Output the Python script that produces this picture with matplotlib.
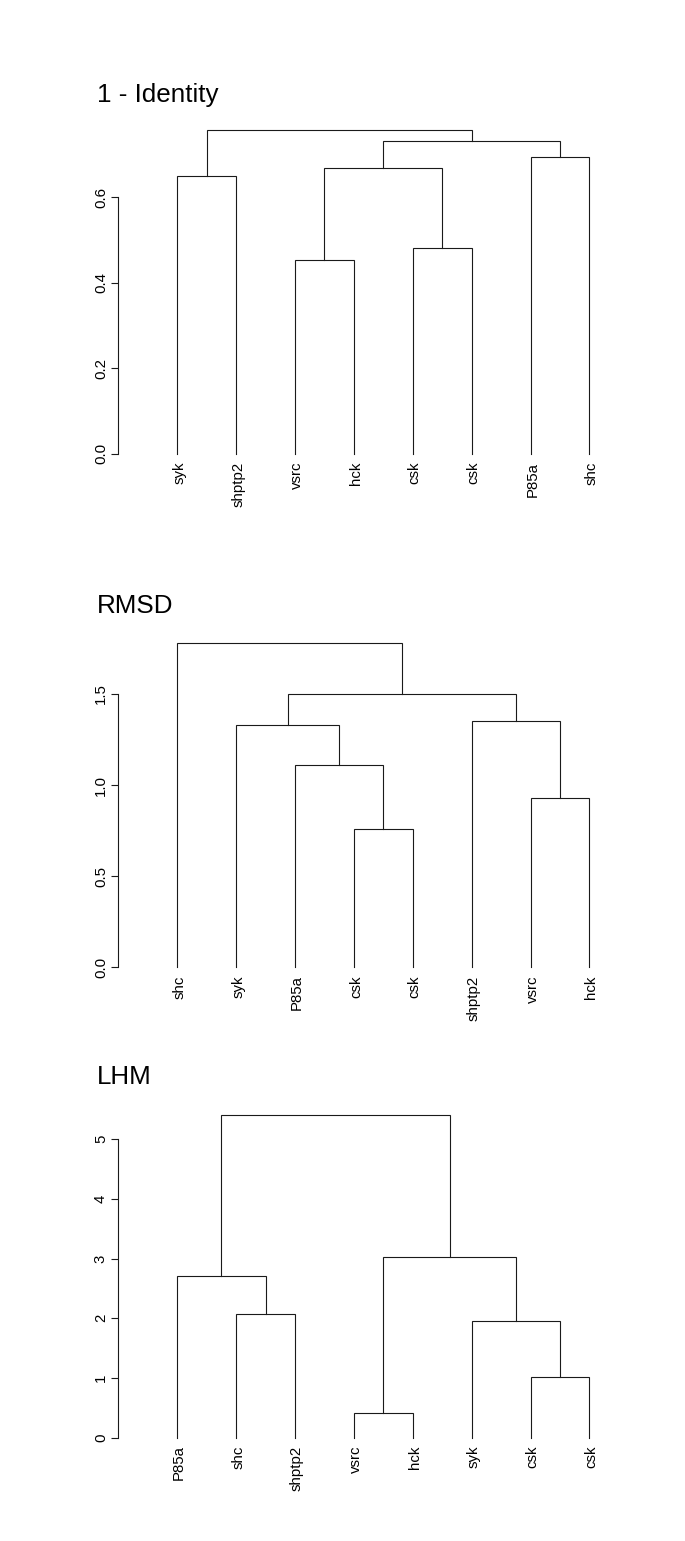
import matplotlib
matplotlib.use("Agg")
import matplotlib.pyplot as plt

plt.rcParams['font.family'] = ['Liberation Sans', 'DejaVu Sans']

# ---- data ----
titles = ["1 - Identity", "RMSD", "LHM"]

labels_identity = ["syk", "shptp2", "vsrc", "hck", "csk", "csk", "P85a", "shc"]
merge_left_identity = [-3, -5, -1, 1, -7, 4, 3]
merge_right_identity = [-4, -6, -2, 2, -8, 5, 6]
heights_identity = [0.454, 0.481, 0.651, 0.669, 0.695, 0.732, 0.757]
yticks_identity = [0.0, 0.2, 0.4, 0.6]

labels_rmsd = ["shc", "syk", "P85a", "csk", "csk", "shptp2", "vsrc", "hck"]
merge_left_rmsd = [-4, -7, -3, -2, -6, 4, -1]
merge_right_rmsd = [-5, -8, 1, 3, 2, 5, 6]
heights_rmsd = [0.759, 0.927, 1.110, 1.328, 1.354, 1.502, 1.778]
yticks_rmsd = [0.0, 0.5, 1.0, 1.5]

labels_lhm = ["P85a", "shc", "shptp2", "vsrc", "hck", "syk", "csk", "csk"]
merge_left_lhm = [-4, -7, -6, -2, -1, 1, 5]
merge_right_lhm = [-5, -8, 2, -3, 4, 3, 6]
heights_lhm = [0.418, 1.014, 1.945, 2.062, 2.709, 3.027, 5.412]
yticks_lhm = [0, 1, 2, 3, 4, 5]

panels = [
    (labels_identity, merge_left_identity, merge_right_identity, heights_identity, yticks_identity, "{:.1f}"),
    (labels_rmsd, merge_left_rmsd, merge_right_rmsd, heights_rmsd, yticks_rmsd, "{:.1f}"),
    (labels_lhm, merge_left_lhm, merge_right_lhm, heights_lhm, yticks_lhm, "{:d}"),
]

# ---- layout (pixels) ----
W, H = 685, 1541
fig = plt.figure(figsize=(W / 100, H / 100), dpi=100)

# (pixel y of value 0, px per unit, ylim top, title baseline y)
geo = [(453.7, 427.3, 0.8, 102), (967.3, 182.2, 1.9, 613), (1437.5, 59.66, 5.6, 1084)]
ax_left_px = 118.3
px_per_leaf = 58.9
xmax = 8.5

def dendro(ax, labels, ml, mr, hts):
    pos = {}
    hnode = {}
    for i in range(len(labels)):
        pos[-(i + 1)] = i + 1
        hnode[-(i + 1)] = 0.0
    for k, (a, b, h) in enumerate(zip(ml, mr, hts), start=1):
        xa, xb = pos[a], pos[b]
        ya, yb = hnode[a], hnode[b]
        ax.plot([xa, xa, xb, xb], [ya, h, h, yb], color='#1a1a1a', lw=0.8,
                solid_joinstyle='miter', clip_on=False)
        pos[k] = (xa + xb) / 2
        hnode[k] = h
    for i, lab in enumerate(labels):
        ax.annotate(lab, xy=(i + 1, 0), xytext=(2, -8), textcoords='offset pixels',
                    rotation=90, ha='center', va='top', fontsize=10.8, color='black')

for (labels, ml, mr, hts, yt, fmt), (y0, ppu, ytop, tb), title in zip(panels, geo, titles):
    top_px = y0 - ytop * ppu
    ax = fig.add_axes([ax_left_px / W, 1 - y0 / H, xmax * px_per_leaf / W, (y0 - top_px) / H])
    ax.set_xlim(0, xmax)
    ax.set_ylim(0, ytop)
    for s in ['top', 'right', 'bottom']:
        ax.spines[s].set_visible(False)
    ax.spines['left'].set_bounds(yt[0], yt[-1])
    ax.spines['left'].set_linewidth(0.8)
    ax.spines['left'].set_color('#1a1a1a')
    ax.set_xticks([])
    ax.set_yticks(yt)
    ax.set_yticklabels([fmt.format(v) for v in yt], rotation=90, va='center', fontsize=10.8)
    ax.tick_params(axis='y', length=5, width=0.8, pad=2.5, color='#1a1a1a')
    ax.patch.set_visible(False)
    dendro(ax, labels, ml, mr, hts)
    fig.text(97 / W, 1 - tb / H, title, fontsize=18.7, ha='left', va='baseline')

fig.savefig("out.png", dpi=100)
